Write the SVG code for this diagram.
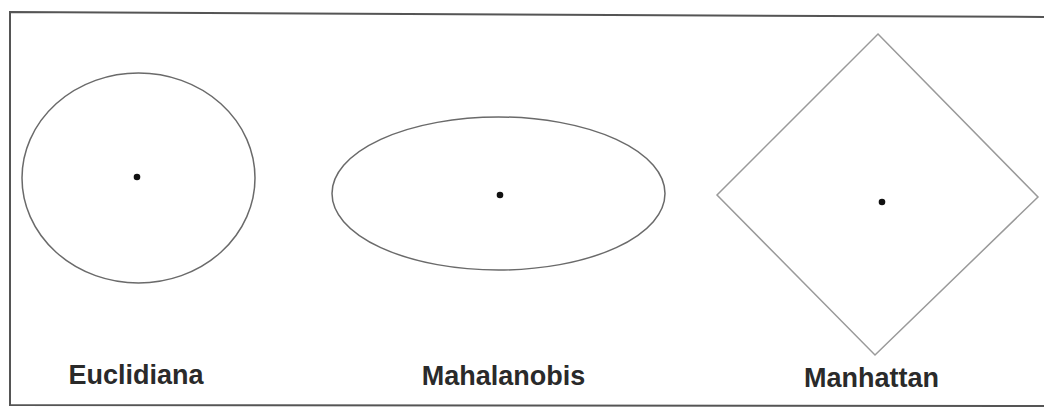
<svg xmlns="http://www.w3.org/2000/svg" width="1044" height="407" viewBox="0 0 1044 407">
<style>
.shape{fill:none;stroke:#6a6a6a;stroke-width:1.5}
.light{stroke:#9a9a9a}
.dot{fill:#111}
.lbl{font-family:"Liberation Sans",Arial,sans-serif;font-weight:bold;font-size:27px;fill:#2a2a2a;text-anchor:middle}
</style>
<rect width="1044" height="407" fill="#fff"/>
<polyline id="frame" points="1044,17 10,12 10,405 1044,406" fill="none" stroke="#555" stroke-width="2"/>
<g id="euclidiana">
<ellipse class="shape" cx="138.5" cy="178" rx="116.5" ry="105"/>
<circle class="dot" cx="137" cy="177" r="3.3"/>
<text class="lbl" x="136" y="384">Euclidiana</text>
</g>
<g id="mahalanobis">
<ellipse class="shape" cx="498.5" cy="193.5" rx="166.5" ry="76.5"/>
<circle class="dot" cx="500" cy="195" r="3.3"/>
<text class="lbl" x="503.5" y="385">Mahalanobis</text>
</g>
<g id="manhattan">
<polygon class="shape light" points="878,34 1038,197 875,355 717,195"/>
<circle class="dot" cx="882" cy="202" r="3.3"/>
<text class="lbl" x="871.5" y="387">Manhattan</text>
</g>
<g id="connectors"></g>
</svg>
